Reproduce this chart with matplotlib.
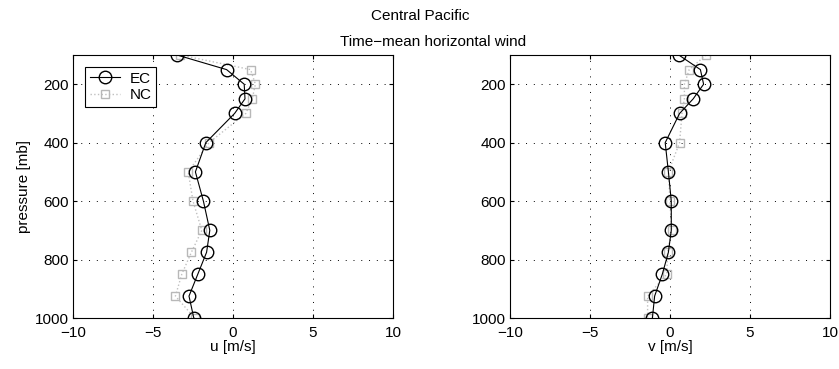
import matplotlib
matplotlib.use("Agg")
import matplotlib.pyplot as plt

plt.rcParams['font.family'] = ['Liberation Sans', 'DejaVu Sans']

pressure = [100, 150, 200, 250, 300, 400, 500, 600, 700, 775, 850, 925, 1000]
u_ec = [-3.5, -0.4, 0.7, 0.75, 0.1, -1.7, -2.35, -1.85, -1.45, -1.65, -2.2, -2.75, -2.45]
u_nc = [-3.3, 1.1, 1.4, 1.2, 0.8, -1.5, -2.8, -2.5, -1.95, -2.6, -3.2, -3.6, -2.4]
v_ec = [0.55, 1.9, 2.1, 1.45, 0.6, -0.3, -0.1, 0.08, 0.08, -0.1, -0.48, -0.96, -1.1]
v_nc = [2.25, 1.2, 0.9, 0.9, 0.75, 0.6, -0.1, 0.0, 0.1, -0.15, -0.2, -1.4, -1.4]

xticks = [-10, -5, 0, 5, 10]
yticks = [200, 400, 600, 800, 1000]

fig = plt.figure(figsize=(8.39, 3.69), dpi=100)
W, H = 839, 369
ax1 = fig.add_axes([73 / W, 1 - 318 / H, 320 / W, 263 / H])
ax2 = fig.add_axes([510 / W, 1 - 318 / H, 320 / W, 263 / H])

for ax, ec, nc, xl in [(ax1, u_ec, u_nc, 'u [m/s]'), (ax2, v_ec, v_nc, 'v [m/s]')]:
    ax.plot(nc, pressure, linestyle=':', color='#c0c0c0', marker='s', markersize=5.5,
            markerfacecolor='none', markeredgecolor='#b8b8b8', linewidth=1, label='NC')
    ax.plot(ec, pressure, linestyle='-', color='black', marker='o', markersize=9,
            markerfacecolor='none', markeredgecolor='black', linewidth=0.8, label='EC')
    ax.set_xlim(-10, 10)
    ax.set_ylim(1000, 100)
    ax.set_xticks(xticks)
    ax.set_yticks(yticks)
    ax.set_xticklabels(['\u221210', '\u22125', '0', '5', '10'])
    ax.grid(True, linestyle=(0, (1, 7)), color='black', linewidth=0.7)
    ax.tick_params(direction='in', top=True, right=True, labelsize=11, length=3, pad=3)
    ax.tick_params(axis='x', pad=6)
    ax.set_xlabel(xl, fontsize=11, labelpad=0)
    for s in ax.spines.values():
        s.set_linewidth(0.8)

ax1.set_ylabel('pressure [mb]', fontsize=11, labelpad=3)
h, l = ax1.get_legend_handles_labels()
leg = ax1.legend([h[1], h[0]], [l[1], l[0]], loc='upper left', fontsize=11,
                 fancybox=False, edgecolor='black', framealpha=1,
                 borderaxespad=0.8, handlelength=2.0, labelspacing=0.15,
                 borderpad=0.3, handletextpad=0.6)
leg.get_frame().set_linewidth(0.8)

fig.text(420 / W, 1 - 16 / H, 'Central Pacific', ha='center', va='center', fontsize=11)
fig.text(433 / W, 1 - 42 / H, 'Time\u2212mean horizontal wind', ha='center', va='center', fontsize=11)

fig.savefig('out.png', dpi=100)
